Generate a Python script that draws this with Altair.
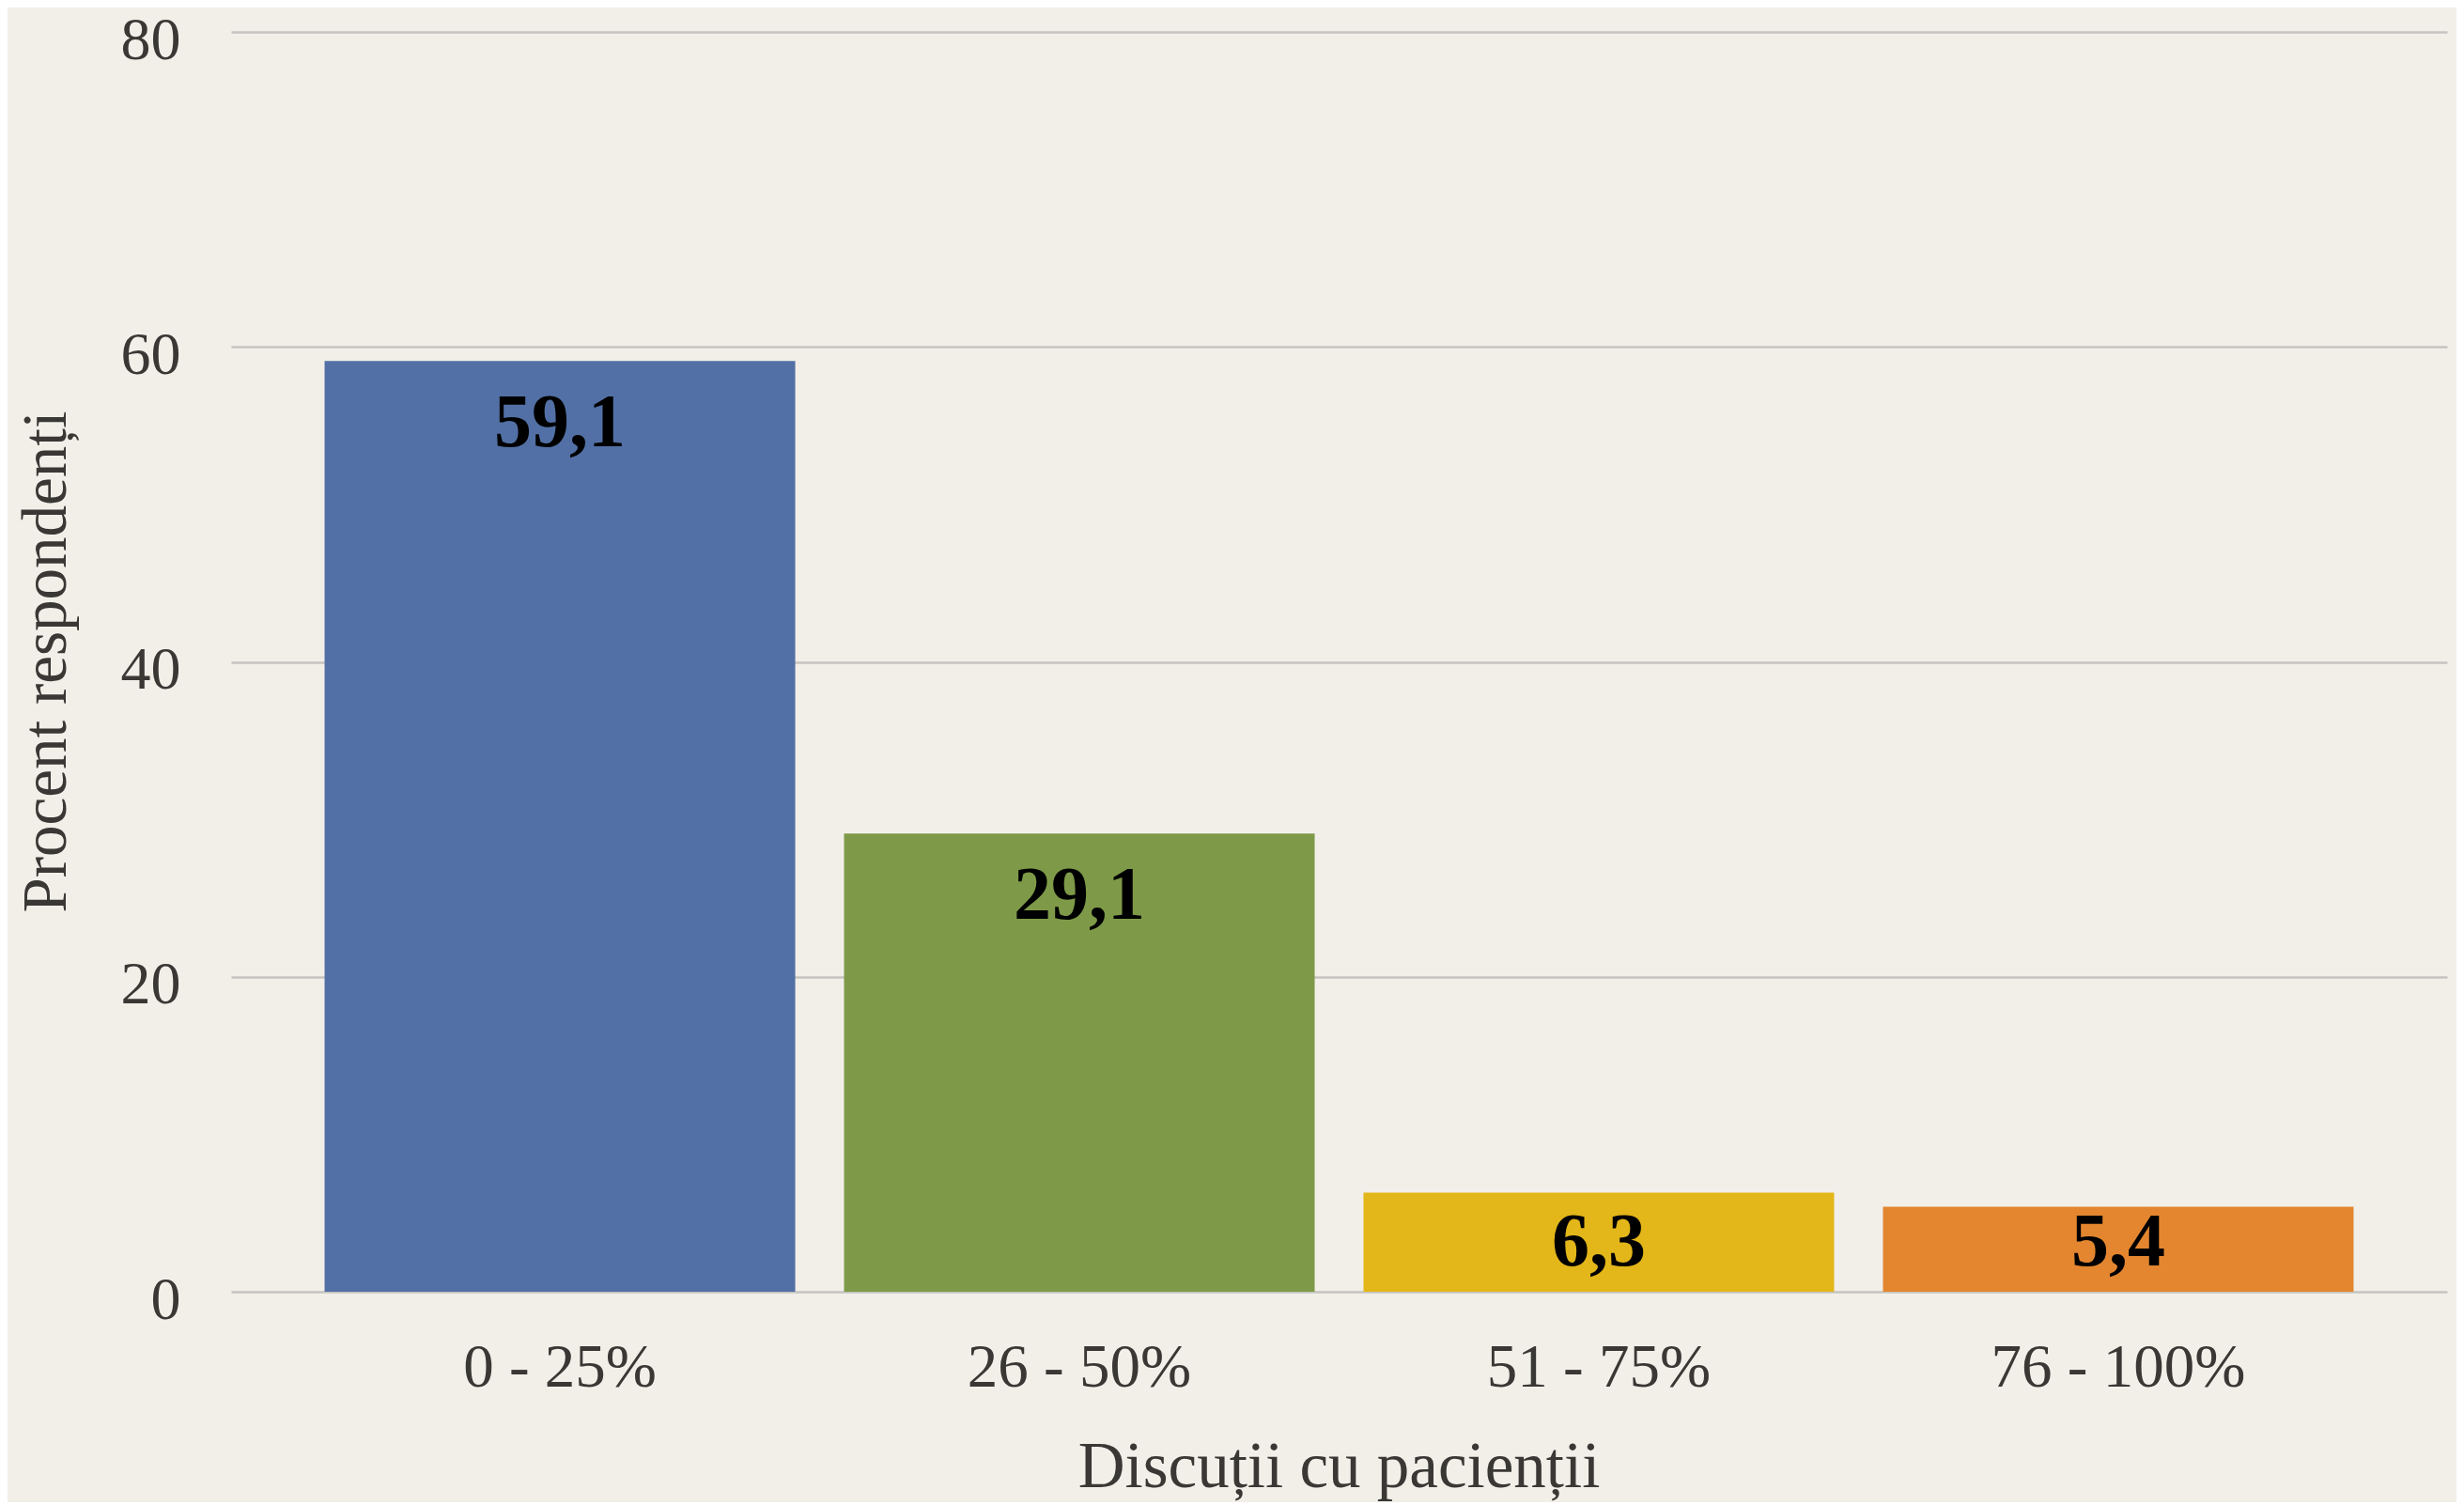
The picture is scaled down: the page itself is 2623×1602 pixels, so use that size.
import altair as alt
import pandas as pd

categories = ["0 - 25%", "26 - 50%", "51 - 75%", "76 - 100%"]
values = [59.1, 29.1, 6.3, 5.4]
labels = ["59,1", "29,1", "6,3", "5,4"]
colors = ["#5270A5", "#7E9A48", "#E3B619", "#E3862F"]
y_ticks = [0, 20, 40, 60, 80]

df = pd.DataFrame({"cat": categories, "value": values, "label": labels})

FONT = "Liberation Serif"
TEXT_COLOR = "#3a3835"

x_enc = alt.X(
    "cat:N",
    sort=categories,
    scale=alt.Scale(paddingInner=0.094, paddingOuter=0.18),
    axis=alt.Axis(
        title="Discuții cu pacienții",
        titleFont=FONT, titleFontSize=69, titleFontWeight="normal", titleColor=TEXT_COLOR,
        titleX=1179, titleY=207, titleBaseline="alphabetic", titleAnchor="middle",
        labelFont=FONT, labelFontSize=65, labelColor=TEXT_COLOR, labelLimit=0,
        labelAngle=0, labelBaseline="alphabetic", labelPadding=100,
        ticks=False, tickSize=0, domain=False, grid=False,
    ),
)

bars = alt.Chart(df).mark_bar().encode(
    x=x_enc,
    y=alt.Y(
        "value:Q",
        scale=alt.Scale(domain=[0, 80], nice=False),
        axis=alt.Axis(
            title="Procent respondenți",
            titleFont=FONT, titleFontSize=67, titleFontWeight="normal", titleColor=TEXT_COLOR,
            titleX=-177, titleY=670, titleBaseline="alphabetic", titleAngle=270,
            labelFont=FONT, labelFontSize=64, labelColor=TEXT_COLOR, labelLimit=0,
            labelPadding=54, labelBaseline="alphabetic", labelOffset=28,
            values=y_ticks, ticks=False, tickSize=0, domain=False,
            grid=True, gridColor="#c6c4c0", gridWidth=2.5,
        ),
    ),
    color=alt.Color("cat:N", sort=categories,
                    scale=alt.Scale(domain=categories, range=colors), legend=None),
)

text = alt.Chart(df).transform_calculate(
    ly="max(datum.value - 5.4, 1.67)"
).mark_text(
    font=FONT, fontSize=80, fontWeight="bold", color="#000000",
    baseline="alphabetic", align="center",
).encode(
    x=alt.X("cat:N", sort=categories),
    y=alt.Y("ly:Q"),
    text="label:N",
)

chart = alt.layer(bars, text).properties(
    width=2359,
    height=1341,
    background="#f2efe9",
    padding={"left": 238, "top": 26, "right": 10, "bottom": 224},
    autosize=alt.AutoSizeParams(type="none"),
).configure_view(stroke=None)

chart.save("out.html", embed_options={"renderer": "svg", "actions": False})
